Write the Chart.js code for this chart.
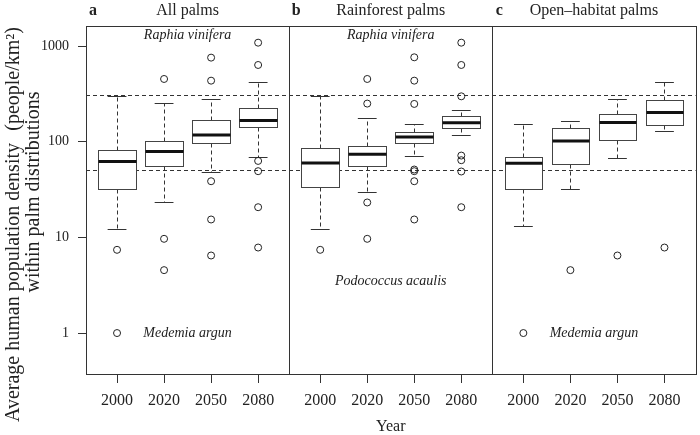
<!DOCTYPE html>
<html>
<head>
<meta charset="utf-8">
<script src="https://cdn.jsdelivr.net/npm/chart.js@4.4.0/dist/chart.umd.min.js"></script>
<style>
  html, body { margin: 0; padding: 0; background: #fff; }
</style>
</head>
<body>
<canvas id="palmChart" width="700" height="435"></canvas>
<script>
// --- data (people / km^2) ---
const years = ['2000', '2020', '2050', '2080'];
const panelLetters = ['a', 'b', 'c'];
const panelTitles = ['All palms', 'Rainforest palms', 'Open\u2013habitat palms'];

// one row per panel (all, rainforest, open-habitat), one column per year
const whiskerLow = [
    [12.2, 23.2, 48.5, 70],
    [12.2, 29.7, 71.8, 118],
    [13.1, 32, 67.9, 130],
];
const quartile1 = [
    [32.2, 56, 97.4, 142],
    [33.5, 56, 97.4, 141],
    [32.2, 58.8, 104, 149],
];
const medians = [
    [62.1, 79, 118, 167],
    [60.2, 74.2, 112, 158],
    [59.8, 102, 159, 202],
];
const quartile3 = [
    [81.7, 102, 169, 224],
    [85.7, 90, 128, 187],
    [70, 139, 197, 276],
];
const whiskerHigh = [
    [299, 257, 281, 420],
    [302, 179, 155, 215],
    [155, 167, 281, 420],
];
const outliers = [
    [[7.42, 1.0], [454, 9.67, 4.55], [759, 436, 38.7, 15.4, 6.47], [1088, 636, 63.1, 49.3, 20.7, 7.84]],
    [[7.42], [454, 251, 23.2, 9.67], [765, 436, 249, 51.3, 49.3, 38.7, 15.4], [1088, 636, 299, 71.8, 64.2, 48.9, 20.7]],
    [[1.0], [4.55], [6.47], [7.84]],
];
const referenceLines = [309, 51];
const yTickValues = [1, 10, 100, 1000];

// species labels: panel index, y value, text
const noteText = ['Raphia vinifera', 'Raphia vinifera', 'Medemia argun', 'Medemia argun', 'Podococcus acaulis'];
const notePanel = [0, 1, 0, 2, 1];
const noteValue = [1309, 1309, 1, 1, 3.44];

// --- layout helpers (R style: boxes at 1..4, xlim 0.5..4.5 extended 4%) ---
const PANEL_SPAN = 4.32;
const FIRST_BOX = 0.66;
const BOX_HALF = 0.4;
const CAP_HALF = 0.2;
const xPos = (p, i) => p * PANEL_SPAN + FIRST_BOX + i;

const outlierPoints = [];
outliers.forEach((panel, p) => {
    panel.forEach((vals, i) => {
        vals.forEach(v => outlierPoints.push({ x: xPos(p, i), y: v }));
    });
});

const tickPositions = [];
for (let p = 0; p < 3; p++) {
    for (let i = 0; i < years.length; i++) tickPositions.push(xPos(p, i));
}

const SERIF = '"Liberation Serif", "DejaVu Serif", serif';
const INK = '#222';

const boxPlot = {
    id: 'boxPlot',
    beforeDatasetsDraw(chart) {
        const { ctx, chartArea, scales: { x, y } } = chart;
        ctx.save();

        // dashed reference lines
        ctx.strokeStyle = '#333';
        ctx.lineWidth = 1;
        ctx.setLineDash([4, 3]);
        referenceLines.forEach(v => {
            const py = Math.round(y.getPixelForValue(v)) + 0.5;
            ctx.beginPath();
            ctx.moveTo(chartArea.left, py);
            ctx.lineTo(chartArea.right, py);
            ctx.stroke();
        });

        for (let p = 0; p < 3; p++) {
            for (let i = 0; i < years.length; i++) {
                const cx = Math.round(x.getPixelForValue(xPos(p, i))) + 0.5;
                const left = Math.round(x.getPixelForValue(xPos(p, i) - BOX_HALF)) + 0.5;
                const right = Math.round(x.getPixelForValue(xPos(p, i) + BOX_HALF)) + 0.5;
                const capL = x.getPixelForValue(xPos(p, i) - CAP_HALF);
                const capR = x.getPixelForValue(xPos(p, i) + CAP_HALF);
                const yLow = Math.round(y.getPixelForValue(whiskerLow[p][i])) + 0.5;
                const yQ1 = Math.round(y.getPixelForValue(quartile1[p][i])) + 0.5;
                const yMed = y.getPixelForValue(medians[p][i]);
                const yQ3 = Math.round(y.getPixelForValue(quartile3[p][i])) + 0.5;
                const yHigh = Math.round(y.getPixelForValue(whiskerHigh[p][i])) + 0.5;

                // whiskers
                ctx.strokeStyle = '#333';
                ctx.lineWidth = 1;
                ctx.setLineDash([4, 3]);
                ctx.beginPath();
                ctx.moveTo(cx, yQ3); ctx.lineTo(cx, yHigh);
                ctx.moveTo(cx, yQ1); ctx.lineTo(cx, yLow);
                ctx.stroke();
                ctx.setLineDash([]);
                ctx.beginPath();
                ctx.moveTo(capL, yHigh); ctx.lineTo(capR, yHigh);
                ctx.moveTo(capL, yLow); ctx.lineTo(capR, yLow);
                ctx.stroke();

                // box
                ctx.fillStyle = '#fff';
                ctx.fillRect(left, yQ3, right - left, yQ1 - yQ3);
                ctx.strokeStyle = '#444';
                ctx.strokeRect(left, yQ3, right - left, yQ1 - yQ3);

                // median
                ctx.strokeStyle = '#111';
                ctx.lineWidth = 3;
                ctx.beginPath();
                ctx.moveTo(left, yMed); ctx.lineTo(right, yMed);
                ctx.stroke();
            }
        }
        ctx.restore();
    },
    afterDraw(chart) {
        const { ctx, chartArea, scales: { x, y } } = chart;
        ctx.save();

        // panel frames
        ctx.strokeStyle = '#333';
        ctx.lineWidth = 1;
        ctx.setLineDash([]);
        const top = Math.round(chartArea.top) + 0.5;
        const bottom = Math.round(chartArea.bottom) + 0.5;
        for (let p = 0; p < 3; p++) {
            const l = Math.round(x.getPixelForValue(p * PANEL_SPAN)) + 0.5;
            const r = Math.min(Math.round(x.getPixelForValue((p + 1) * PANEL_SPAN)) + 0.5, chart.width - 0.5);
            ctx.strokeRect(l, top, r - l, bottom - top);
        }

        ctx.fillStyle = INK;
        ctx.textBaseline = 'middle';

        // panel titles
        for (let p = 0; p < 3; p++) {
            const l = x.getPixelForValue(p * PANEL_SPAN);
            const c = x.getPixelForValue(p * PANEL_SPAN + PANEL_SPAN / 2);
            ctx.textAlign = 'center';
            ctx.font = 'bold 16px ' + SERIF;
            ctx.fillText(panelLetters[p], l + 7, 11);
            ctx.font = '16px ' + SERIF;
            ctx.fillText(panelTitles[p], c, 11);
        }

        // species notes
        ctx.font = 'italic 14px ' + SERIF;
        ctx.textAlign = 'center';
        noteText.forEach((t, k) => {
            const c = x.getPixelForValue(notePanel[k] * PANEL_SPAN + PANEL_SPAN / 2);
            ctx.fillText(t, c, y.getPixelForValue(noteValue[k]));
        });

        // x title
        ctx.font = '16px ' + SERIF;
        ctx.fillText('Year', (chartArea.left + chartArea.right) / 2, 427);

        // y title (two lines, rotated)
        ctx.font = '20px ' + SERIF;
        ctx.save();
        ctx.translate(14, 422);
        ctx.rotate(-Math.PI / 2);
        ctx.textAlign = 'left';
        ctx.fillText('Average human population density', 0, 0);
        ctx.restore();
        ctx.save();
        ctx.translate(14, 27);
        ctx.rotate(-Math.PI / 2);
        ctx.textAlign = 'right';
        ctx.fillText('(people/km\u00B2)', 0, 0);
        ctx.restore();
        ctx.save();
        ctx.translate(34, 192);
        ctx.rotate(-Math.PI / 2);
        ctx.textAlign = 'center';
        ctx.fillText('within palm distributions', 0, 0);
        ctx.restore();

        ctx.restore();
    }
};

const ctx = document.getElementById('palmChart').getContext('2d');
new Chart(ctx, {
    type: 'scatter',
    data: {
        datasets: [{
            data: outlierPoints,
            pointStyle: 'circle',
            pointRadius: 3.5,
            pointHoverRadius: 3.5,
            borderColor: INK,
            borderWidth: 1,
            backgroundColor: 'rgba(0,0,0,0)',
        }],
    },
    options: {
        responsive: false,
        animation: false,
        events: [],
        layout: { padding: { top: 26, right: 1, left: 0, bottom: 0 } },
        plugins: {
            legend: { display: false },
            tooltip: { enabled: false },
        },
        scales: {
            x: {
                type: 'linear',
                min: 0,
                max: 3 * PANEL_SPAN,
                afterBuildTicks: s => { s.ticks = tickPositions.map(v => ({ value: v })); },
                afterFit: s => { s.height = 61; },
                grid: { drawOnChartArea: false, drawTicks: true, tickLength: 9, color: '#333' },
                border: { display: false },
                ticks: {
                    autoSkip: false,
                    maxRotation: 0,
                    padding: 8,
                    color: INK,
                    font: { family: SERIF, size: 16 },
                    callback: (v, i) => years[i % years.length],
                },
            },
            y: {
                type: 'logarithmic',
                min: 0.373,
                max: 1626,
                afterBuildTicks: s => { s.ticks = yTickValues.map(v => ({ value: v })); },
                afterFit: s => { s.width = 86; },
                grid: { drawOnChartArea: false, drawTicks: true, tickLength: 8, color: '#333' },
                border: { display: false },
                ticks: {
                    padding: 9,
                    color: INK,
                    font: { family: SERIF, size: 14 },
                    callback: v => String(v),
                },
            },
        },
    },
    plugins: [boxPlot],
});
</script>
</body>
</html>
